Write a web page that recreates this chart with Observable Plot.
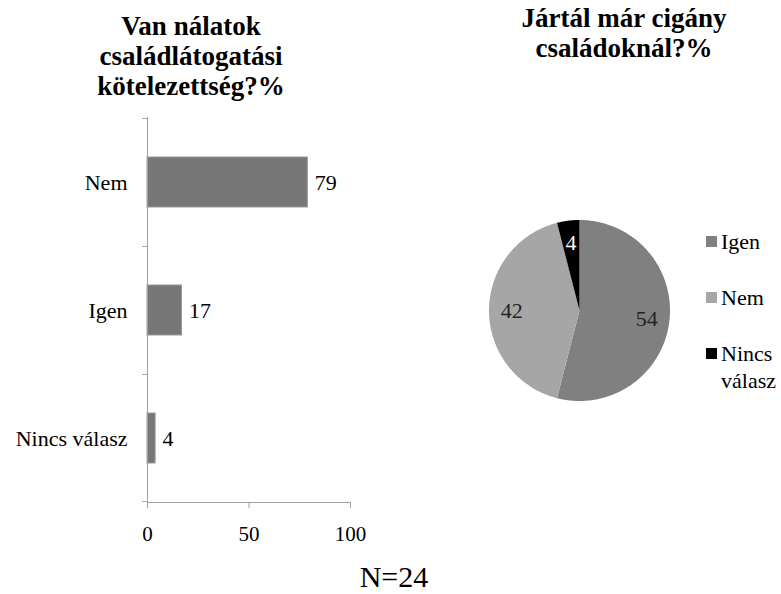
<!DOCTYPE html>
<html>
<head>
<meta charset="utf-8">
<script src="https://cdn.jsdelivr.net/npm/d3@7"></script>
<script src="https://cdn.jsdelivr.net/npm/@observablehq/plot@0.6"></script>
<style>
  html, body { margin: 0; padding: 0; background: #fff; }
  #root { position: relative; width: 781px; height: 594px; overflow: hidden; font-family: 'Liberation Serif', serif !important; color: #000; }
  #root * { font-family: 'Liberation Serif', serif !important; }
  .title { position: absolute; text-align: center; font-weight: bold; font-size: 27px; line-height: 30px; }
  .leg { position: absolute; font-size: 22px; line-height: 27px; }
  .sw { position: absolute; width: 11px; height: 11px; }
</style>
</head>
<body>
<div id="root"></div>
<script>
// ---- Data ----
const barTitle = ["Van nálatok", "családlátogatási", "kötelezettség?%"];
const barCats = ["Nem", "Igen", "Nincs válasz"];
const barVals = [79, 17, 4];
const xTicks = [0, 50, 100];

const pieTitle = ["Jártál már cigány", "családoknál?%"];
const pieCats = ["Igen", "Nem", "Nincs válasz"];
const pieVals = [54, 42, 4];
const pieColors = ["#808080", "#a6a6a6", "#000000"];
const pieLabelColors = ["#222", "#222", "#fff"];
const legendLines = [["Igen"], ["Nem"], ["Nincs", "válasz"]];

const caption = "N=24";

const FONT = "'Liberation Serif', serif";

function build() {
  const root = document.getElementById("root");

  // ---- Titles ----
  function addTitle(lines, left, top, width) {
    const d = document.createElement("div");
    d.className = "title";
    d.style.left = left + "px";
    d.style.top = top + "px";
    d.style.width = width + "px";
    d.innerHTML = lines.join("<br>");
    root.appendChild(d);
  }
  addTitle(barTitle, 11, 11, 360);
  addTitle(pieTitle, 474, 3, 300);

  // ---- Bar chart ----
  const barData = barCats.map((c, i) => ({cat: c, val: barVals[i]}));
  const plotTop = 117, plotBottom = 502;
  const bw = (plotBottom - plotTop) / barCats.length;
  const axisGray = "#a0a0a0";

  const bar = Plot.plot({
    width: 400,
    height: 562,
    marginLeft: 147,
    marginRight: 50,
    marginTop: plotTop,
    marginBottom: 562 - plotBottom,
    style: {fontFamily: FONT, fontSize: "22px", color: "#000", background: "transparent", overflow: "visible"},
    x: {domain: [0, 100], label: null, axis: null},
    y: {domain: barCats, padding: 0, label: null, axis: null},
    marks: [
      Plot.barX(barData, {y: "cat", x: "val", fill: "#777777", stroke: "#9a9a9a", strokeWidth: 1, insetTop: 39, insetBottom: 39}),
      Plot.text(barData, {y: "cat", x: "val", text: d => String(d.val), textAnchor: "start", dx: 7, fontSize: 22, fill: "#000"}),
      Plot.frame({anchor: "left", stroke: axisGray}),
      Plot.frame({anchor: "bottom", stroke: axisGray}),
      Plot.barX(barCats, {y: d => d, x1: -2.5, x2: 0, fill: axisGray, insetBottom: bw - 1.2}),
      Plot.barX([barCats[barCats.length - 1]], {y: d => d, x1: -2.5, x2: 0, fill: axisGray, insetTop: bw - 1.2}),
      Plot.axisX({ticks: xTicks, tickSize: 6, tickPadding: 18, stroke: axisGray, fill: "#000", fontSize: 21, label: null, tickFormat: d => String(d)}),
      Plot.axisY({tickSize: 0, tickPadding: 20, fill: "#000", fontSize: 22, label: null})
    ]
  });
  bar.style.position = "absolute";
  bar.style.left = "0px";
  bar.style.top = "0px";
  root.appendChild(bar);

  // ---- Pie chart ----
  const total = d3.sum(pieVals);
  const pieData = [];
  const pieLabelData = [];
  let cum = 0;
  pieCats.forEach((c, i) => {
    const a0 = cum / total * 2 * Math.PI;
    cum += pieVals[i];
    const a1 = cum / total * 2 * Math.PI;
    pieData.push({cat: c, x: 0, y: 0});
    const n = Math.max(2, Math.ceil((a1 - a0) / (Math.PI / 180)));
    for (let k = 0; k <= n; k++) {
      const a = a0 + (a1 - a0) * k / n;
      pieData.push({cat: c, x: Math.sin(a), y: Math.cos(a)});
    }
    pieData.push({cat: c, x: 0, y: 0});
    const am = (a0 + a1) / 2;
    pieLabelData.push({cat: c, val: pieVals[i], x: 0.75 * Math.sin(am), y: 0.75 * Math.cos(am), color: pieLabelColors[i]});
  });

  const pieSize = 200, pieMargin = 9.5;
  const pie = Plot.plot({
    width: pieSize,
    height: pieSize,
    margin: pieMargin,
    style: {fontFamily: FONT, fontSize: "22px", background: "transparent", overflow: "visible"},
    x: {domain: [-1, 1], axis: null},
    y: {domain: [-1, 1], axis: null},
    color: {domain: pieCats, range: pieColors},
    marks: [
      Plot.line(pieData, {x: "x", y: "y", z: "cat", fill: "cat", stroke: "none", curve: "linear"}),
      Plot.text(pieLabelData, {x: "x", y: "y", text: d => String(d.val), fill: d => d.color, fontSize: 22})
    ]
  });
  pie.style.position = "absolute";
  pie.style.left = (578.5 - pieSize / 2) + "px";
  pie.style.top = (309.5 - pieSize / 2) + "px";
  root.appendChild(pie);

  // ---- Legend ----
  const legTop0 = 228, legStep = 56;
  pieCats.forEach((c, i) => {
    const sw = document.createElement("div");
    sw.className = "sw";
    sw.style.background = pieColors[i];
    sw.style.left = "706px";
    sw.style.top = (legTop0 + i * legStep + 8) + "px";
    root.appendChild(sw);
    const t = document.createElement("div");
    t.className = "leg";
    t.style.left = "721px";
    t.style.top = (legTop0 + i * legStep) + "px";
    t.innerHTML = legendLines[i].join("<br>");
    root.appendChild(t);
  });

  // ---- Caption ----
  const cap = document.createElement("div");
  cap.style.position = "absolute";
  cap.style.left = "294px";
  cap.style.width = "200px";
  cap.style.textAlign = "center";
  cap.style.top = "562px";
  cap.style.fontSize = "30px";
  cap.style.lineHeight = "30px";
  cap.textContent = caption;
  root.appendChild(cap);

  // force the serif family on every element, inline and important
  root.querySelectorAll("*").forEach(el => el.style.setProperty("font-family", FONT, "important"));
}
build();
</script>
</body>
</html>
